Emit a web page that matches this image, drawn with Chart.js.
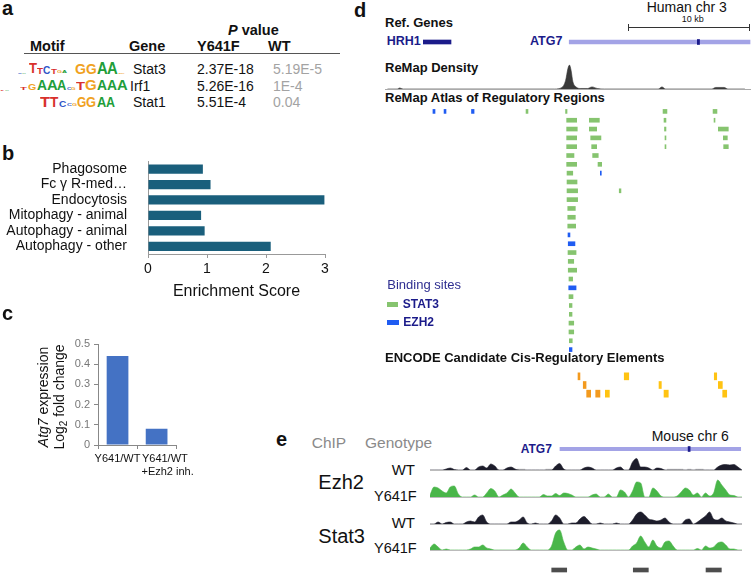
<!DOCTYPE html>
<html>
<head>
<meta charset="utf-8">
<script src="https://cdn.jsdelivr.net/npm/chart.js@4.4.0/dist/chart.umd.min.js"></script>
<style>
  html, body { margin: 0; padding: 0; background: #fff; }
  #fig { position: relative; width: 751px; height: 573px; overflow: hidden; font-family: 'Liberation Sans', Arial, sans-serif; color: #111; }
  #fig canvas, .t, .box { position: absolute; }
  .t { line-height: 1; white-space: nowrap; }
  .b { font-weight: bold; }
  .navy { color: #1b1b8a; }
  .gray { color: #8a8a8a; }
</style>
</head>
<body>
<div id="fig">
  <!-- panel a -->
  <div class="t b" style="left:2px;top:-2px;font-size:20px">a</div>
  <div class="t b" style="left:228px;top:22.7px;font-size:14.5px"><i>P</i> value</div>
  <div class="t b" style="left:30px;top:39.4px;font-size:14.5px">Motif</div>
  <div class="t b" style="left:129px;top:39.4px;font-size:14.5px">Gene</div>
  <div class="t b" style="left:197px;top:39.4px;font-size:14.5px">Y641F</div>
  <div class="t b" style="left:268px;top:39.4px;font-size:14.5px">WT</div>
  <div class="box" style="left:24px;top:52.5px;width:316px;height:1px;background:#555"></div>

  <!-- panel b -->
  <div class="t b" style="left:2px;top:143px;font-size:20px">b</div>
  <canvas id="chartB" width="340" height="165" style="left:0;top:140px"></canvas>

  <!-- panel c -->
  <div class="t b" style="left:2px;top:303px;font-size:20px">c</div>
  <div class="t" style="left:-14px;top:380.7px;width:130px;height:32px;font-size:14px;line-height:16px;text-align:center;transform:rotate(-90deg)"><i>Atg7</i> expression<br>Log<span style="font-size:10px;line-height:0;vertical-align:-3px">2</span> fold change</div>
  <canvas id="chartC" width="138" height="160" style="left:62px;top:330px"></canvas>

  <!-- panel d -->
  <div class="t b" style="left:354px;top:-0.2px;font-size:20px">d</div>
  <div class="t" style="left:646.7px;top:0px;font-size:14px">Human chr 3</div>
  <div class="t" style="left:681.7px;top:14.9px;font-size:9px">10 kb</div>
  <div class="box" style="left:628px;top:27px;width:122px;height:1px;background:#333"></div>
  <div class="box" style="left:628px;top:23.5px;width:1px;height:7px;background:#333"></div>
  <div class="box" style="left:749px;top:23.5px;width:1px;height:7px;background:#333"></div>
  <div class="t b" style="left:385px;top:15.7px;font-size:13px">Ref. Genes</div>
  <div class="t b navy" style="left:386.7px;top:35.1px;font-size:12.5px">HRH1</div>
  <div class="t b navy" style="left:530px;top:35.1px;font-size:12.5px">ATG7</div>
  <canvas id="chartGenes" width="366" height="12" style="left:385px;top:36px"></canvas>
  <div class="t b" style="left:385px;top:61.3px;font-size:13px">ReMap Density</div>
  <canvas id="chartDensity" width="366" height="28" style="left:385px;top:62px"></canvas>
  <div class="t b" style="left:385px;top:90.7px;font-size:13px">ReMap Atlas of Regulatory Regions</div>
  <canvas id="chartSites" width="366" height="247" style="left:385px;top:107px"></canvas>
  <div class="t navy" style="left:387.3px;top:278.3px;font-size:13px;color:#2e2e90">Binding sites</div>
  <div class="box" style="left:387.3px;top:301.7px;width:11px;height:5px;background:#86c46f"></div>
  <div class="t b navy" style="left:402.7px;top:298.1px;font-size:12px">STAT3</div>
  <div class="box" style="left:387.3px;top:320px;width:12px;height:4.5px;background:#1f5cf2"></div>
  <div class="t b navy" style="left:403.3px;top:315.8px;font-size:12px">EZH2</div>
  <div class="t b" style="left:385px;top:350.7px;font-size:13px">ENCODE Candidate Cis-Regulatory Elements</div>
  <canvas id="chartCcre" width="366" height="26" style="left:385px;top:372px"></canvas>

  <!-- panel e -->
  <div class="t b" style="left:276px;top:429px;font-size:20px">e</div>
  <div class="t gray" style="left:311.7px;top:434.6px;font-size:15.5px">ChIP</div>
  <div class="t gray" style="left:365px;top:434.6px;font-size:15.5px">Genotype</div>
  <div class="t b navy" style="left:520.7px;top:442.5px;font-size:12px">ATG7</div>
  <div class="t" style="left:651.7px;top:428.8px;font-size:14px">Mouse chr 6</div>
  <div class="t" style="left:318.3px;top:472.4px;font-size:20px">Ezh2</div>
  <div class="t" style="left:318.3px;top:525.8px;font-size:20px">Stat3</div>
  <div class="t" style="right:336px;top:462.3px;font-size:15px">WT</div>
  <div class="t" style="right:334.3px;top:488.7px;font-size:14.5px">Y641F</div>
  <div class="t" style="right:336px;top:514.6px;font-size:15px">WT</div>
  <div class="t" style="right:334.3px;top:541px;font-size:14.5px">Y641F</div>
  <canvas id="trackEzh2WT" width="312" height="26" style="left:430px;top:445px"></canvas>
  <canvas id="trackEzh2Y" width="312" height="26" style="left:430px;top:472px"></canvas>
  <canvas id="trackStat3WT" width="312" height="26" style="left:430px;top:499px"></canvas>
  <canvas id="trackStat3Y" width="312" height="26" style="left:430px;top:525px"></canvas>
  <canvas id="chartMouseGene" width="312" height="10" style="left:430px;top:444px"></canvas>
  <canvas id="chartPeaks" width="312" height="10" style="left:430px;top:565px"></canvas>
</div>

<script>
// ---------- panel a: motif enrichment ----------
const motifGenes = ['Stat3', 'Irf1', 'Stat1'];
const pValueY641F = ['2.37E-18', '5.26E-16', '5.51E-4'];
const pValueWT = ['5.19E-5', '1E-4', '0.04'];

// ---------- panel b: KEGG enrichment ----------
const pathways = ['Phagosome', 'Fc γ R-med…', 'Endocytosis', 'Mitophagy - animal', 'Autophagy - animal', 'Autophagy - other'];
const enrichmentScore = [0.93, 1.06, 2.99, 0.90, 0.96, 2.08];

// ---------- panel c: Atg7 expression ----------
// second label sits a little right of its bar in the original, hence the leading en spaces
const conditions = [['Y641/WT'], ['\u2002\u2002\u2002Y641/WT', '\u2002\u2002\u2002\u2002+Ezh2 inh.']];
const atg7Log2FC = [0.44, 0.08];

// ---------- panel d: human chr 3 (kb from left edge of view) ----------
const humanGenes = [['HRH1', 3.14, 5.41], ['ATG7', 15.1, 29.92]];
const humanAtg7Exons = [[25.6, 25.78]];
const remapDensity = [
  [0.2, 0], [1.0, 0], [1.2, 1], [1.5, 0], [13.9, 0], [14.5, 1.5], [14.8, 8], [15.0, 20], [15.12, 23],
  [15.25, 18], [15.4, 7], [15.66, 2], [16.0, 0.5], [16.6, 0.5], [16.97, 2], [17.4, 0.5], [18.0, 0],
  [22.4, 0], [22.7, 2], [23.0, 0], [26.8, 0], [27.1, 1.5], [27.8, 1.5], [28.1, 0], [29.5, 0]
];
const siteRows = [0,1,2,3,4,5,6,7,8,9,10,11,12,13,14,15,16,17,18,19,20,21,22,23,24,25,26,27];
// [row, start kb, end kb]
const stat3Sites = [
  [0, 11.56, 11.72], [0, 14.80, 14.92], [0, 22.79, 23.11], [0, 26.89, 27.21],
  [1, 14.89, 15.71], [1, 16.75, 17.57], [1, 22.87, 23.03], [1, 26.97, 27.05],
  [2, 14.89, 15.76], [2, 16.75, 17.35], [2, 22.91, 23.03], [2, 27.32, 28.14],
  [3, 14.89, 15.71], [3, 16.86, 17.70], [3, 22.95, 23.03], [3, 27.73, 28.06],
  [4, 14.89, 15.71], [4, 16.94, 17.35], [4, 22.95, 23.03], [4, 27.76, 28.14],
  [5, 14.89, 15.49], [5, 17.02, 17.48],
  [6, 14.89, 15.71], [6, 17.46, 17.76],
  [7, 14.92, 15.39], [8, 14.92, 15.74],
  [9, 14.92, 15.79], [9, 19.20, 19.34],
  [10, 14.92, 15.79], [11, 14.98, 15.60], [12, 14.98, 15.60], [13, 14.98, 15.63],
  [16, 15.00, 15.66], [17, 15.02, 15.47], [18, 15.02, 15.71], [19, 15.08, 15.38],
  [21, 15.08, 15.41], [22, 15.11, 15.33], [23, 15.11, 15.33], [24, 15.08, 15.47],
  [25, 15.08, 15.47], [26, 15.11, 15.35]
];
const ezh2Sites = [
  [0, 3.93, 4.10], [0, 4.84, 5.00], [0, 7.09, 7.30], [7, 17.65, 17.73],
  [14, 15.00, 15.16], [15, 15.02, 15.57], [20, 15.06, 15.66], [27, 15.11, 15.33]
];
const ccreRows = [0, 1, 2];
const ccreSites = [
  [0, 15.82, 15.98, 'pELS'], [0, 19.61, 19.98, 'dELS'], [0, 26.99, 27.19, 'dELS'],
  [1, 16.25, 16.48, 'pELS'], [1, 22.46, 22.65, 'dELS'], [1, 27.32, 27.65, 'dELS'],
  [2, 16.53, 16.86, 'pELS'], [2, 17.27, 17.62, 'pELS'], [2, 18.06, 18.39, 'dELS'],
  [2, 22.87, 23.22, 'dELS'], [2, 27.68, 28.01, 'dELS']
];

// ---------- panel e: mouse chr 6 ChIP coverage (78 bins) ----------
const ezh2WT = [0,0,0,0,1,2,0.5,0,0,2.5, 0,0,3,4,2,6,4,0,0,2, 3,1,0,0,0,0,0,0,0,0,
  0,4,6.5,1,0,0,0,0,2,3, 2,0,0,0,0,0,2,3,0,0, 8,11.5,3,3,2,0,2,1.5,0,0,
  0,0,0,0,0,0,0,0,0,0, 0,3,5,5.5,5,5.5,3,0];
const ezh2WTNoData = [22, 23, 29, 30, 59, 60, 61, 62, 64, 66, 67];
const ezh2Y641F = [2,10,9,6,4,10,11,3,0,0, 0,2,0,0,4,8.5,6,0,2,4, 8,4,0,0,0,0,0,0,2.5,1,
  1,3.5,1.5,4,3.5,2,0,0,0,0, 2,3,0,0,3,0,0,7,5,0, 6,15,14,0,0,9,6,1,0,0,
  0,1,5,9,7,2,4,0,4,1, 4,17,12,7,2,1.5,0,0];
const stat3WT = [0,0,2,0,1.5,2,0,0,0,2, 3,2,7,9,2,0,0,0,0,0, 2,2,4,7,1,0,1,0,0,0,
  3,9,6,0,0,1,1,5,7.5,4, 0,0,1,0,0,0,1,0,0,0, 4,10,12,9,5,4,3,4,6,2,
  0,0,0,4,5,0,2,5,8,12, 5,4,6,3,2,1,0,0];
const stat3Y641F = [2,6,3,0,1,0,0,0,0,0, 1,3,3,5,2,1,0,0,0,0, 0,0,2,7,3,0,0,0,0,0,
  4,17,20,8,0,0,3,5,1,3, 2,1,0,0,0,0,0,0,0,0, 4,7,14,8,3,10,4,2,8,9,
  4,0,0,0,0,0,1.5,0,4,2, 3,7,8,5,1,1,0,0];
const mouseAtg7 = [32.08, 76.68];
const mouseAtg7Exons = [[63.7, 64.2]];
const highlightedPeaks = [[30.04, 33.74], [50.17, 53.88], [68.12, 71.9]];

// ================= drawing =================
const fig = document.getElementById('fig');
Chart.defaults.font.family = "'Liberation Sans', Arial, sans-serif";
Chart.defaults.animation = false;
Chart.defaults.responsive = false;
Chart.defaults.plugins.legend.display = false;
Chart.defaults.plugins.tooltip.enabled = false;

function addText(html, left, top, size, extra) {
  const el = document.createElement('div');
  el.className = 't';
  el.innerHTML = html;
  el.style.left = left + 'px';
  el.style.top = top + 'px';
  el.style.fontSize = size + 'px';
  if (extra) el.style.cssText += extra;
  fig.appendChild(el);
  return el;
}

// table rows of panel a
const rowBase = [74, 90.5, 107];
motifGenes.forEach((g, i) => {
  const top = rowBase[i] - 0.847 * 14;
  addText(g, i === 1 ? 130 : 133, top, 14);
  addText(pValueY641F[i], 197, top, 14);
  addText(pValueWT[i], 273, top, 14, 'color:#a3a3a3');
});

// sequence logos: [letter, left, width, height]
const logoColors = { A: '#1f9e3a', C: '#2f55c8', G: '#f0a21f', T: '#d8312c' };
const logoGlyphs = [
  [['C',18,4,1.5],['A',22,4,1.5],['T',29.3,8,10.7],['T',37.3,6,6],['C',43.3,7.3,8],['T',50.7,6,4.5],
   ['G',56.7,5,3],['A',62,5,2.5],['G',75,11,11],['G',86,10.7,11],['A',96.7,10.7,11.5],['A',107.3,10.7,11.5],['G',118,7,1.5]],
  [['T',0,4,1.5],['A',5,4,1.5],['T',20,7,2],['G',28.3,8.3,7],['A',36.7,10,11],['A',46.7,10.7,11],['A',57.3,9.3,11],
   ['C',66.7,4.5,2.5],['G',71.2,4.5,2.5],['T',76,9,8],['G',85,11.7,11],['A',96.7,10,11],['A',106.7,10,11],['A',116.7,10.7,11]],
  [['T',40,10,11],['T',50,8.3,11],['C',59.3,7.3,7],['C',66.7,5,3],['G',71.7,5,3],['G',76.7,9.3,11],['G',86,10,11],
   ['A',96.7,9.3,11],['A',106,9,11]]
];
const measure = document.createElement('canvas').getContext('2d');
logoGlyphs.forEach((glyphs, r) => {
  glyphs.forEach(([ch, x, w, h]) => {
    const size = h / 0.716;
    measure.font = `bold ${size}px 'Liberation Sans', Arial`;
    const nat = measure.measureText(ch).width;
    addText(ch, x, rowBase[r] - 0.847 * size, size,
      `font-weight:bold;color:${logoColors[ch]};transform-origin:0 0;transform:scaleX(${(w / nat).toFixed(3)})`);
  });
});

// panel b
new Chart(document.getElementById('chartB'), {
  type: 'bar',
  data: {
    labels: pathways,
    datasets: [{ data: enrichmentScore, backgroundColor: '#1a5f7c', barPercentage: 0.6, categoryPercentage: 1 }]
  },
  options: {
    indexAxis: 'y',
    layout: { padding: { top: 14, right: 15, left: 0, bottom: 0 } },
    scales: {
      x: {
        min: 0, max: 3,
        ticks: { stepSize: 1, color: '#111', font: { size: 14 }, padding: 3 },
        grid: { drawOnChartArea: false, tickLength: 4, color: '#999' },
        border: { color: '#999' },
        title: { display: true, text: 'Enrichment Score', color: '#111', font: { size: 16 }, padding: { top: 0, bottom: 4 } },
        afterFit: s => { s.height = 51; }
      },
      y: {
        ticks: { color: '#111', font: { size: 14 }, padding: 13, autoSkip: false },
        grid: { display: false },
        border: { color: '#999' },
        afterFit: s => { s.width = 148; }
      }
    }
  }
});

// panel c
new Chart(document.getElementById('chartC'), {
  type: 'bar',
  data: {
    labels: conditions,
    datasets: [{ data: atg7Log2FC, backgroundColor: '#4472c4', barPercentage: 0.556, categoryPercentage: 1 }]
  },
  options: {
    layout: { padding: { top: 14, right: 13, left: 0, bottom: 0 } },
    scales: {
      x: {
        ticks: { color: '#111', font: { size: 11 }, padding: 3, maxRotation: 0, autoSkip: false },
        grid: { drawOnChartArea: false, tickLength: 4, color: '#888', offset: true },
        border: { color: '#888' },
        afterFit: s => { s.height = 45; }
      },
      y: {
        min: 0, max: 0.5,
        ticks: { stepSize: 0.1, color: '#777', font: { size: 11 }, padding: 4 },
        grid: { drawOnChartArea: false, tickLength: 4, color: '#888' },
        border: { color: '#888' },
        afterFit: s => { s.width = 36; }
      }
    }
  }
});

// floating-bar tracks (genes, binding sites, cCREs)
function barTrack(id, rows, datasets, xmax) {
  return new Chart(document.getElementById(id), {
    type: 'bar',
    data: { labels: rows, datasets: datasets },
    options: {
      indexAxis: 'y',
      layout: { padding: 0 },
      scales: {
        x: { type: 'linear', min: 0, max: xmax, display: false },
        y: { display: false }
      }
    }
  });
}
const toBars = (list, row) => list.map(s => row === undefined ? { y: s[0], x: [s[1], s[2]] } : { y: row, x: [s[0], s[1]] });

barTrack('chartGenes', ['genes'], [
  { data: humanAtg7Exons.map(e => ({ y: 'genes', x: e })), backgroundColor: '#1b1b8a', barThickness: 5, grouped: false },
  { data: humanGenes.map(g => ({ y: 'genes', x: [g[1], g[2]] })), backgroundColor: ['#1b1b8a', '#a3a3e6'], barThickness: 4, grouped: false }
], 30);

barTrack('chartSites', siteRows, [
  { data: toBars(stat3Sites), backgroundColor: '#86c46f', barThickness: 4, grouped: false },
  { data: toBars(ezh2Sites), backgroundColor: '#1f5cf2', barThickness: 4, grouped: false }
], 30);

barTrack('chartCcre', ccreRows, [
  { data: toBars(ccreSites), backgroundColor: ccreSites.map(c => c[3] === 'pELS' ? '#f39a1e' : '#ffc312'), barThickness: 7, grouped: false }
], 30);

// ReMap density
new Chart(document.getElementById('chartDensity'), {
  type: 'line',
  data: {
    datasets: [{
      data: remapDensity.map(p => ({ x: p[0], y: p[1] })),
      borderColor: '#333', backgroundColor: '#3a3a3a', borderWidth: 0.6,
      fill: 'origin', pointRadius: 0, cubicInterpolationMode: 'monotone'
    }]
  },
  options: {
    layout: { padding: { bottom: 1 } },
    scales: {
      x: { type: 'linear', min: 0, max: 30, ticks: { display: false }, grid: { display: false, drawTicks: false },
           border: { color: '#aaa', dash: [7, 4] } },
      y: { display: false, min: 0, max: 26 }
    }
  }
});

// mouse ChIP coverage tracks
function coverage(id, values, color, extra) {
  const datasets = [{
    data: values, borderColor: color, backgroundColor: color, borderWidth: 0.6,
    fill: 'origin', pointRadius: 0, cubicInterpolationMode: 'monotone'
  }];
  if (extra) datasets.push(extra);
  return new Chart(document.getElementById(id), {
    type: 'line',
    data: { labels: values.map((v, i) => i), datasets: datasets },
    options: {
      layout: { padding: { bottom: 1 } },
      scales: {
        x: { offset: false, ticks: { display: false }, grid: { display: false, drawTicks: false }, border: { color: '#bbb' } },
        y: { display: false, min: 0, max: 25 }
      }
    }
  });
}
const dark = '#1d1d2b', green = '#49b649';
coverage('trackEzh2WT', ezh2WT, dark, {
  data: ezh2WT.map((v, i) => ezh2WTNoData.includes(i) ? 1.3 : 0),
  borderWidth: 0, backgroundColor: '#cfcfcf', fill: 'origin', pointRadius: 0, stepped: 'middle'
});
coverage('trackEzh2Y', ezh2Y641F, green);
coverage('trackStat3WT', stat3WT, dark);
coverage('trackStat3Y', stat3Y641F, green);

barTrack('chartMouseGene', ['gene'], [
  { data: mouseAtg7Exons.map(e => ({ y: 'gene', x: e })), backgroundColor: '#1b1b8a', barThickness: 5, grouped: false },
  { data: [{ y: 'gene', x: mouseAtg7 }], backgroundColor: '#a3a3e6', barThickness: 3.5, grouped: false }
], 77);

barTrack('chartPeaks', ['peaks'], [
  { data: toBars(highlightedPeaks, 'peaks'), backgroundColor: '#4d4d4d', barThickness: 4, grouped: false }
], 77);
</script>
</body>
</html>
